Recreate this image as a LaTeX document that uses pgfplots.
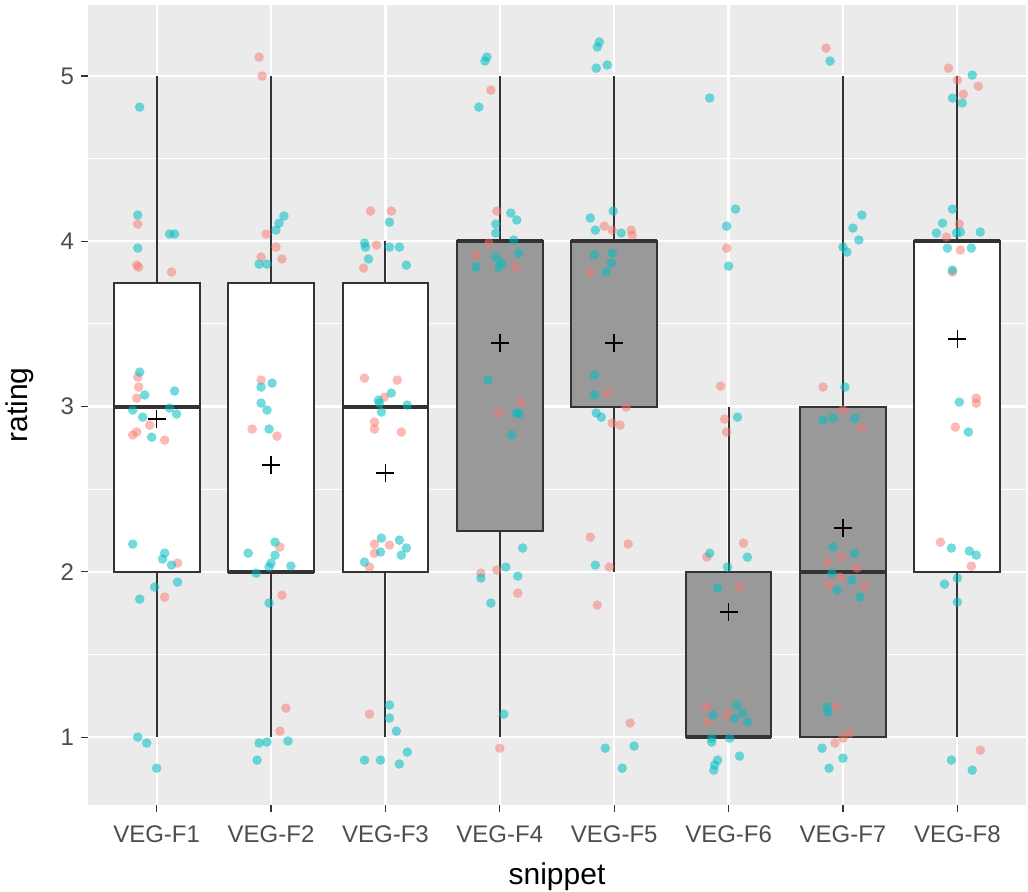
\documentclass[border=0pt]{standalone}
\usepackage{fontspec}
\setmainfont{Liberation Sans}
\usepackage{pgfplots}
\pgfplotsset{compat=1.18}
\usepgfplotslibrary{statistics}

\definecolor{panelbg}{HTML}{EBEBEB}
\definecolor{boxline}{HTML}{333333}
\definecolor{boxgray}{HTML}{999999}
\definecolor{ticktext}{HTML}{4D4D4D}
\definecolor{ggred}{HTML}{F8766D}
\definecolor{ggteal}{HTML}{00BFC4}

\pgfplotsset{
  vegbox/.style={
    boxline, solid, line width=1pt, mark=none,
    boxplot/draw direction=y,
    boxplot/box extend=0.75,
    boxplot/whisker extend=0,
    boxplot/every box/.style={draw=boxline, fill=#1, line width=1pt},
    boxplot/every whisker/.style={draw=boxline, line width=1pt},
    boxplot/every median/.style={draw=boxline, line width=2pt},
  },
  redpts/.style={only marks, mark=*, mark size=2.4pt, color=ggred,
    mark options={draw opacity=0, fill=ggred, fill opacity=0.5}},
  tealpts/.style={only marks, mark=*, mark size=2.4pt, color=ggteal,
    mark options={draw opacity=0, fill=ggteal, fill opacity=0.55}},
}

\begin{document}
\begin{tikzpicture}
\begin{axis}[
  scale only axis,
  width=469pt, height=400pt,
  xmin=0.4, xmax=8.6,
  ymin=0.589, ymax=5.43,
  axis background/.style={fill=panelbg},
  axis line style={draw=none},
  xtick={1,2,3,4,5,6,7,8},
  xticklabels={VEG-F1,VEG-F2,VEG-F3,VEG-F4,VEG-F5,VEG-F6,VEG-F7,VEG-F8},
  ytick={1,2,3,4,5},
  minor ytick={1.5,2.5,3.5,4.5},
  grid=both,
  major grid style={white, line width=1.1pt},
  minor grid style={white, line width=0.5pt},
  tick pos=left,
  tick align=outside,
  major tick length=3.5pt,
  minor tick length=0pt,
  tick style={boxline, line width=0.6pt},
  /pgf/number format/assume math mode=true,
  ticklabel style={font=\fontsize{12}{14}\selectfont, text=ticktext},
  xticklabel style={yshift=-3.5pt},
  xlabel={snippet},
  ylabel={rating},
  label style={font=\fontsize{15}{18}\selectfont, text=black},
  xlabel style={at={(axis description cs:0.5,-0.09875)}, anchor=base},
  ylabel style={at={(axis description cs:-0.065,0.5)}, anchor=base},
]

% boxes
\addplot[vegbox=white, boxplot prepared={draw position=1, lower whisker=1, lower quartile=2, median=3, upper quartile=3.75, upper whisker=5}] coordinates {};
\addplot[vegbox=white, boxplot prepared={draw position=2, lower whisker=1, lower quartile=2, median=2, upper quartile=3.75, upper whisker=5}] coordinates {};
\addplot[vegbox=white, boxplot prepared={draw position=3, lower whisker=1, lower quartile=2, median=3, upper quartile=3.75, upper whisker=4}] coordinates {};
\addplot[vegbox=boxgray, boxplot prepared={draw position=4, lower whisker=1, lower quartile=2.25, median=4, upper quartile=4, upper whisker=5}] coordinates {};
\addplot[vegbox=boxgray, boxplot prepared={draw position=5, lower whisker=2, lower quartile=3, median=4, upper quartile=4, upper whisker=5}] coordinates {};
\addplot[vegbox=boxgray, boxplot prepared={draw position=6, lower whisker=1, lower quartile=1, median=1, upper quartile=2, upper whisker=3}] coordinates {};
\addplot[vegbox=boxgray, boxplot prepared={draw position=7, lower whisker=1, lower quartile=1, median=2, upper quartile=3, upper whisker=5}] coordinates {};
\addplot[vegbox=white, boxplot prepared={draw position=8, lower whisker=1, lower quartile=2, median=4, upper quartile=4, upper whisker=5}] coordinates {};

% jittered ratings, red group
\addplot[redpts] coordinates {
  (0.835,4.104) (0.826,3.856) (0.843,3.844) (1.130,3.814) (0.835,3.179)
  (0.843,3.118) (0.826,3.051) (0.939,2.888) (0.826,2.846) (0.791,2.828)
  (1.070,2.797) (1.183,2.053) (1.070,1.847)
  (1.896,5.115) (1.922,5.000) (1.957,4.044) (2.043,3.965) (1.913,3.905)
  (2.096,3.893) (1.913,3.160) (1.835,2.864) (2.052,2.821) (2.078,2.150)
  (2.096,1.859) (2.130,1.175) (2.078,1.036)
  (2.870,4.183) (3.052,4.183) (2.922,3.977) (2.809,3.838) (2.817,3.172)
  (3.104,3.160) (2.991,3.057) (2.904,2.906) (2.904,2.864) (3.139,2.846)
  (2.904,2.168) (3.035,2.162) (2.904,2.113) (2.861,2.029) (2.861,1.139)
  (3.922,4.915) (3.974,4.183) (3.904,3.989) (3.791,3.917) (4.139,3.844)
  (4.183,3.027) (3.991,2.961) (3.835,1.992) (3.974,2.011) (4.157,1.871)
  (4.000,0.933)
  (4.913,4.092) (5.148,4.068) (5.157,4.038) (4.983,4.068) (4.791,3.814)
  (4.939,3.082) (5.104,2.997) (4.983,2.900) (5.052,2.888) (4.791,2.210)
  (5.122,2.168) (4.957,2.029) (4.852,1.799) (5.139,1.085)
  (5.983,3.959) (5.930,3.124) (5.965,2.924) (5.983,2.846) (6.130,2.174)
  (5.809,2.089) (6.096,1.908) (5.809,1.182) (5.991,1.133) (5.817,1.091)
  (6.852,5.169) (6.826,3.118) (7.000,2.979) (7.165,2.870) (6.870,2.059)
  (6.991,2.089) (7.122,2.023) (6.974,1.968) (6.878,1.920) (7.191,1.914)
  (6.930,1.182) (7.061,1.024) (7.000,0.994) (6.930,0.964)
  (7.922,5.048) (8.000,4.976) (8.183,4.939) (8.052,4.891) (8.017,4.104)
  (7.904,4.026) (8.026,3.947) (7.957,3.814) (8.165,3.051) (8.165,3.021)
  (7.983,2.876) (7.852,2.180) (8.122,2.035) (8.200,0.921)
};

% jittered ratings, teal group
\addplot[tealpts] coordinates {
  (0.852,4.812) (0.835,4.159) (0.835,3.959) (1.113,4.044) (1.157,4.044)
  (0.852,3.209) (0.896,3.070) (1.157,3.094) (0.791,2.979) (0.878,2.936)
  (0.957,2.815) (1.113,2.991) (1.174,2.955) (0.791,2.168) (1.070,2.113)
  (1.052,2.077) (1.130,2.041) (0.983,1.908) (1.183,1.938) (0.852,1.835)
  (0.835,1.000) (0.913,0.964) (1.000,0.812)
  (2.113,4.153) (2.070,4.110) (2.043,4.068) (1.896,3.862) (1.965,3.862)
  (2.009,3.142) (1.913,3.118) (1.913,3.021) (1.965,2.979) (1.983,2.864)
  (2.035,2.180) (1.800,2.113) (2.035,2.101) (2.000,2.053) (1.983,2.029)
  (2.174,2.035) (1.870,1.992) (1.983,1.811) (1.896,0.964) (1.965,0.970)
  (2.148,0.976) (1.878,0.861)
  (3.035,4.116) (2.817,3.989) (2.826,3.965) (3.035,3.965) (3.122,3.965)
  (2.852,3.893) (3.183,3.856) (3.052,3.082) (2.939,3.039) (2.948,3.021)
  (2.965,2.967) (3.191,3.009) (2.965,2.204) (3.122,2.192) (3.183,2.144)
  (2.957,2.120) (3.139,2.101) (2.817,2.059) (3.035,1.194) (3.035,1.115)
  (3.096,1.036) (3.191,0.909) (2.817,0.861) (2.957,0.861) (3.122,0.837)
  (3.887,5.115) (3.870,5.091) (3.817,4.812) (4.096,4.171) (4.148,4.129)
  (3.965,4.104) (3.965,4.050) (4.122,4.008) (4.165,3.929) (3.965,3.905)
  (4.017,3.868) (3.791,3.844) (3.991,3.844) (3.896,3.160) (4.148,2.961)
  (4.165,2.955) (4.104,2.828) (4.200,2.144) (3.835,1.962) (4.052,2.029)
  (4.157,1.974) (3.922,1.811) (4.035,1.139)
  (4.870,5.206) (4.852,5.176) (4.843,5.048) (4.939,5.067) (4.991,4.183)
  (4.791,4.141) (4.835,4.068) (5.061,4.050) (4.826,3.917) (4.983,3.929)
  (4.930,3.814) (4.974,3.868) (4.826,3.191) (4.826,3.070) (4.843,2.961)
  (4.887,2.936) (4.835,2.041) (4.922,0.933) (5.174,0.946) (5.070,0.812)
  (5.835,4.867) (6.061,4.195) (5.983,4.092) (6.000,3.850) (6.078,2.936)
  (5.835,2.113) (6.165,2.089) (5.991,2.029) (5.904,1.902) (5.861,1.133)
  (6.070,1.194) (6.122,1.145) (6.165,1.091) (6.052,1.115) (5.852,0.994)
  (5.852,0.970) (6.009,0.994) (6.096,0.885) (5.904,0.861) (5.878,0.831)
  (5.870,0.800)
  (6.887,5.091) (7.165,4.159) (7.087,4.080) (7.139,4.008) (7.000,3.965)
  (7.035,3.935) (7.017,3.118) (6.826,2.918) (6.913,2.930) (7.104,2.930)
  (6.913,2.150) (7.104,2.113) (6.904,1.992) (7.078,1.950) (6.948,1.890)
  (7.148,1.847) (6.861,1.182) (6.870,1.151) (6.817,0.933) (7.000,0.873)
  (6.878,0.812)
  (8.130,5.006) (7.957,4.867) (8.043,4.837) (7.957,4.195) (7.870,4.110)
  (7.817,4.050) (7.991,4.050) (8.026,4.056) (8.200,4.056) (7.913,3.959)
  (8.122,3.959) (7.957,3.826) (8.017,3.027) (8.096,2.846) (7.948,2.144)
  (8.104,2.126) (8.165,2.101) (8.000,1.962) (7.887,1.926) (8.000,1.817)
  (7.948,0.861) (8.130,0.800)
};

% means
\addplot[only marks, mark=+, mark size=4.5pt, mark options={black, line width=0.8pt}] coordinates {
  (1,2.924) (2,2.646) (3,2.598) (4,3.384) (5,3.384) (6,1.756) (7,2.265) (8,3.408)
};
\end{axis}
\pgfresetboundingbox
\path ([shift={(-44pt,-43pt)}]current axis.south west) rectangle ([shift={(1pt,2.5pt)}]current axis.north east);
\end{tikzpicture}
\end{document}
